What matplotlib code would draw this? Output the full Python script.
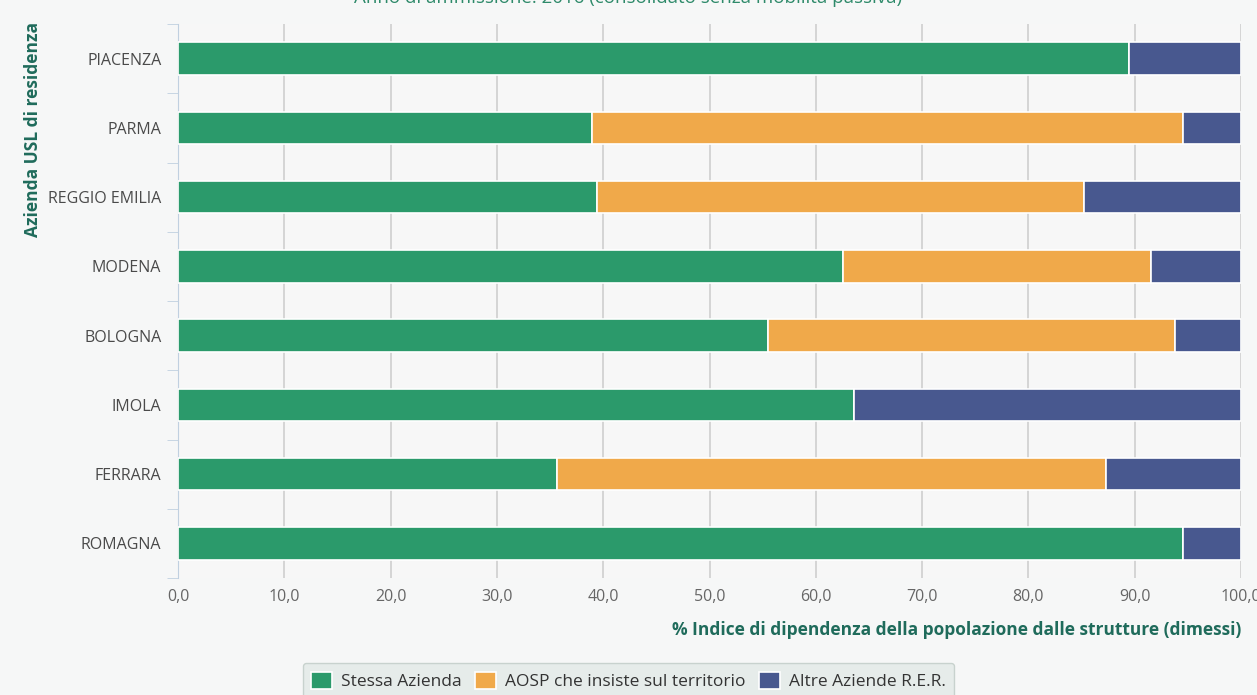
import numpy as np
import matplotlib
matplotlib.use('Agg')
import matplotlib.pyplot as plt
from matplotlib.ticker import FuncFormatter

plt.rcParams['font.family'] = ['Open Sans', 'DejaVu Sans']

aziende = ['PIACENZA', 'PARMA', 'REGGIO EMILIA', 'MODENA', 'BOLOGNA', 'IMOLA', 'FERRARA', 'ROMAGNA']
stessa = [89.5, 38.9, 39.4, 62.6, 55.5, 63.6, 35.7, 94.5]
aosp = [0.0, 55.6, 45.8, 28.9, 38.3, 0.0, 51.6, 0.0]
altre = [10.5, 5.5, 14.8, 8.5, 6.2, 36.4, 12.7, 5.5]

serie = ['Stessa Azienda', 'AOSP che insiste sul territorio', 'Altre Aziende R.E.R.']
colori = ['#2B9A6B', '#F0A94A', '#48588F']

W, H = 1257, 695
fig = plt.figure(figsize=(W / 100, H / 100), dpi=100)
fig.patch.set_facecolor('#F6F7F7')
ax = fig.add_axes([178 / W, 1 - 578 / H, (1241 - 178) / W, (578 - 24) / H])
ax.set_facecolor('#F7F7F7')

y = np.arange(len(aziende))
left = np.zeros(len(aziende))
for vals, col, lab in zip([stessa, aosp, altre], colori, serie):
    vals = np.array(vals)
    ax.barh(y, vals, left=left, height=0.47, color=col, edgecolor='white',
            linewidth=1.2, label=lab, zorder=3)
    left += vals

ax.set_ylim(len(aziende) - 0.5, -0.5)
ax.set_xlim(0, 100)
ax.set_yticks(y)
ax.set_yticklabels(aziende)
ax.set_yticks(np.arange(len(aziende) + 1) - 0.5, minor=True)
ax.set_xticks(np.arange(0, 101, 10))
ax.xaxis.set_major_formatter(FuncFormatter(lambda v, p: f'{v:.1f}'.replace('.', ',')))

ax.grid(axis='x', color='#CFCFCF', linewidth=1.2, zorder=0)
for s in ['top', 'right', 'bottom']:
    ax.spines[s].set_visible(False)
ax.spines['left'].set_color('#C0D0E0')
ax.tick_params(axis='y', which='major', length=0, pad=12, labelsize=11.5, labelcolor='#4A4A4A')
ax.tick_params(axis='y', which='minor', length=8, color='#C0D0E0')
ax.tick_params(axis='x', length=0, pad=8, labelsize=11.5, labelcolor='#666666')

fig.text(0.5, 1 - 3 / H, 'Anno di ammissione: 2016 (consolidato senza mobilità passiva)',
         ha='center', va='baseline', fontsize=13.5, color='#2E8A6A')
fig.text(1241 / W, 1 - 630 / H, '% Indice di dipendenza della popolazione dalle strutture (dimessi)',
         ha='right', va='center', fontsize=12.5, fontweight='bold', color='#1F6B5B')
fig.text(33 / W, 1 - 22 / H, 'Azienda USL di residenza', rotation=90,
         ha='center', va='top', fontsize=12.5, fontweight='bold', color='#1F6B5B')

leg = fig.legend(loc='center', bbox_to_anchor=(0.5, 1 - 681 / H), ncol=3,
                 frameon=True, fontsize=12.5, handlelength=1.2, handleheight=1.2,
                 columnspacing=0.8, handletextpad=0.5, borderpad=0.5)
leg.get_frame().set_facecolor('#E2EAE7')
leg.get_frame().set_edgecolor('#BFCBC6')
for t in leg.get_texts():
    t.set_color('#333333')

fig.savefig('out.png', dpi=100, facecolor=fig.get_facecolor())
